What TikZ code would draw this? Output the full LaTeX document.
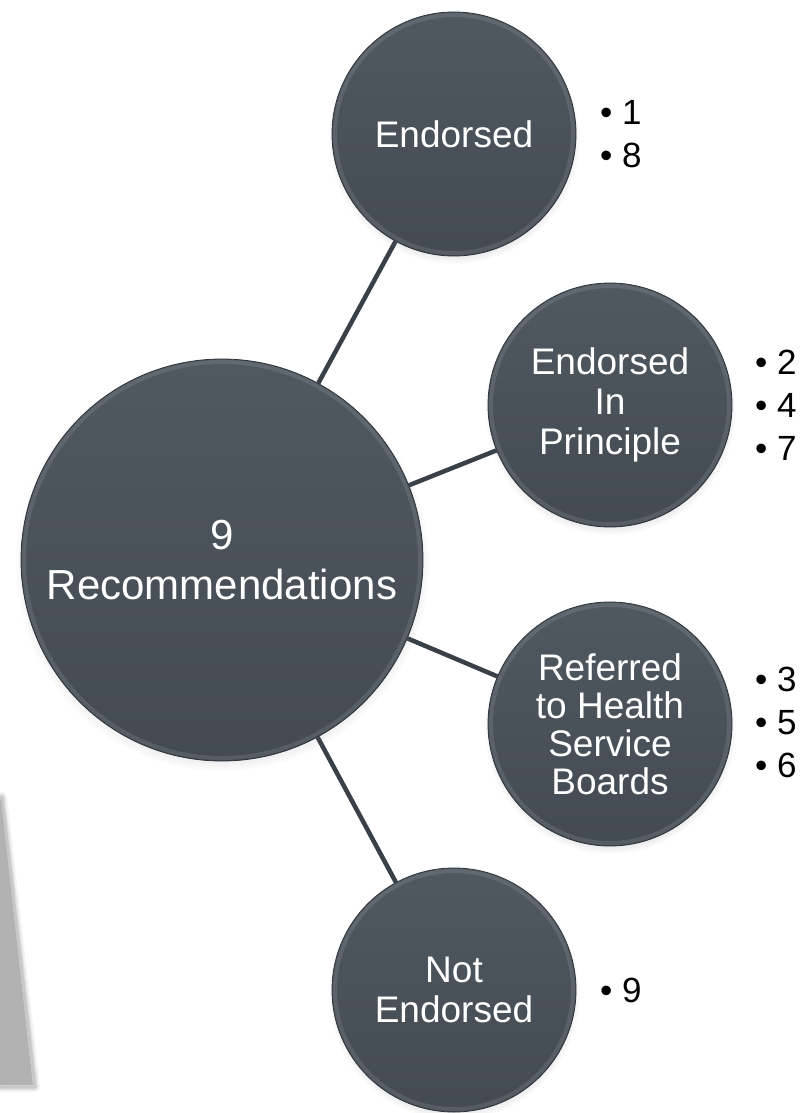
\documentclass[tikz,border=0pt]{standalone}
\usepackage{fontspec}
\setmainfont{Liberation Sans}
\usetikzlibrary{shadows,backgrounds}
\definecolor{ctop}{HTML}{505860}
\definecolor{cbot}{HTML}{434A52}
\definecolor{cedge}{HTML}{2E343A}
\definecolor{linkcol}{HTML}{394047}
\definecolor{ghost}{HTML}{B2B2B2}
\begin{document}
\begin{tikzpicture}[x=1pt,y=-1pt,
  bubble/.style={circle, minimum size=244pt, inner sep=0pt,
    top color=ctop, bottom color=cbot, draw=cedge, line width=0.8pt,
    text=white, align=center, font=\fontsize{37}{40}\selectfont,
    circular drop shadow={shadow xshift=0pt, shadow yshift=-4pt, opacity=0.35, shadow scale=1.03},
    path picture={\draw[white,opacity=0.10,line width=4pt] (path picture bounding box.center) circle (119pt);}},
  bigbubble/.style={bubble, minimum size=402pt, font=\fontsize{42}{50}\selectfont,
    path picture={\draw[white,opacity=0.10,line width=4pt] (path picture bounding box.center) circle (198pt);}},
  link/.style={draw=linkcol, line width=4.5pt},
  bul/.style={anchor=west, align=left, inner sep=0pt, text=black, font=\fontsize{35}{43}\selectfont}
]
\useasboundingbox (0,0) rectangle (805,1113);

\node[bigbubble] (main) at (222,560) {9\\Recommendations};
\node[bubble] (e1) at (454,134) {Endorsed};
\node[bubble] (e2) at (610,405) {Endorsed\\In\\Principle};
\node[bubble, font=\fontsize{37}{38}\selectfont] (e3) at (610,724) {Referred\\to Health\\Service\\Boards};
\node[bubble] (e4) at (454,990) {Not\\Endorsed};

\node[bul] (l1) at (600,134) {\textbullet\ 1\\\textbullet\ 8};
\node[bul] (l2) at (755,405) {\textbullet\ 2\\\textbullet\ 4\\\textbullet\ 7};
\node[bul] (l3) at (755,722) {\textbullet\ 3\\\textbullet\ 5\\\textbullet\ 6};
\node[bul] (l4) at (600,990) {\textbullet\ 9};

\begin{scope}[on background layer]
  \fill[white] (0,0) rectangle (805,1113);
  \foreach \w/\o in {10/0.15,6/0.3,3/0.5}{
    \draw[ghost, line width=\w pt, opacity=\o, line join=round] (0,797) -- (2,797) -- (35,1087) -- (0,1087) -- cycle;
  }
  \fill[ghost] (0,800) -- (1,800) -- (33,1085) -- (0,1085) -- cycle;
  \draw[link] (main) -- (e1);
  \draw[link] (main) -- (e2);
  \draw[link] (main) -- (e3);
  \draw[link] (main) -- (e4);
\end{scope}
\end{tikzpicture}
\end{document}
